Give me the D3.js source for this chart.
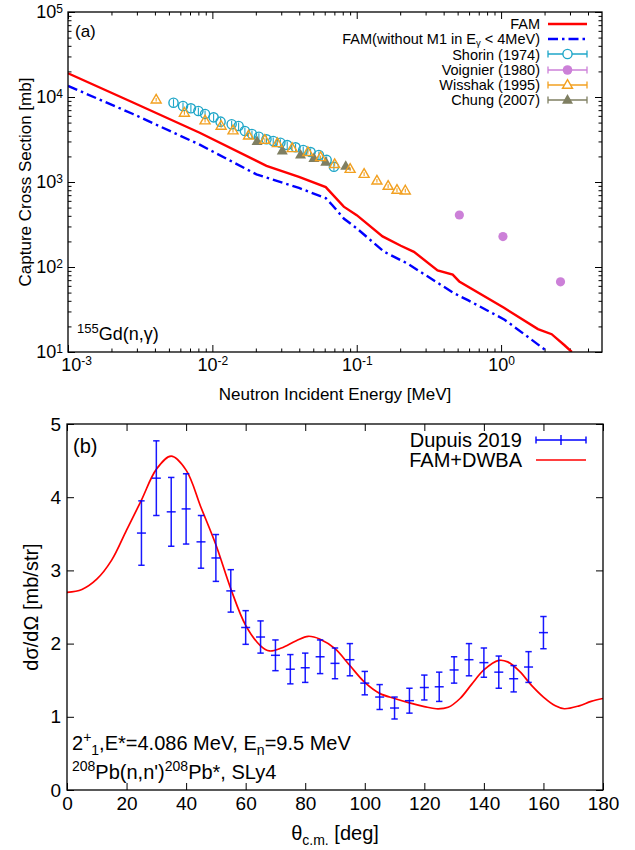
<!DOCTYPE html>
<html><head><meta charset="utf-8">
<script src="https://cdn.jsdelivr.net/npm/d3@7"></script>
<style>
body{margin:0;background:#fff}
svg{display:block}
text{font-family:"Liberation Sans",Arial,Helvetica,sans-serif;fill:#000}
</style>
</head><body>
<svg id="c" width="635" height="850"></svg>
<script>
// ---------- Panel (a): capture cross section of 155Gd ----------
const famE   = [0.001, 0.00282, 0.00817, 0.0237, 0.0398, 0.0610, 0.0813, 0.100, 0.151, 0.202, 0.249, 0.363, 0.462, 0.513, 1.047, 1.80, 2.24, 2.75, 3.09];
const famXS  = [19000, 8610, 3800, 1550, 1150, 871, 513, 407, 229, 178, 151, 91.2, 81.3, 67.6, 33.1, 18.6, 16.2, 12.0, 10.0];
const famNoM1E  = [0.001, 0.00282, 0.00817, 0.0202, 0.0398, 0.0610, 0.0676, 0.0813, 0.100, 0.155, 0.224, 0.309, 0.473, 0.589, 1.057, 1.53, 2.11];
const famNoM1XS = [13500, 6310, 2750, 1230, 851, 646, 537, 372, 285, 151, 110, 77.6, 49.0, 40.7, 24.0, 15.1, 10.0];
const shorinE  = [0.00538, 0.00626, 0.0071, 0.0080, 0.0089, 0.0102, 0.0114, 0.0136, 0.0152, 0.0168, 0.0188, 0.021, 0.0237, 0.0264, 0.0296, 0.033, 0.0377, 0.0426, 0.0479, 0.0547, 0.0619, 0.0695];
const shorinXS = [8570, 7840, 7360, 6840, 6310, 5760, 5130, 4780, 4560, 3980, 3670, 3410, 3180, 3040, 2900, 2720, 2560, 2380, 2250, 2080, 1820, 1510];
const voignierE  = [0.514, 1.03, 2.58];
const voignierXS = [409, 228, 67];
const wisshakE  = [0.00408, 0.0064, 0.0089, 0.0115, 0.0139, 0.0178, 0.0231, 0.0282, 0.0357, 0.0459, 0.0562, 0.0703, 0.090, 0.1125, 0.138, 0.165, 0.19, 0.217];
const wisshakXS = [9300, 6500, 5280, 4570, 4030, 3500, 3120, 2850, 2490, 2240, 1950, 1620, 1420, 1240, 1035, 897, 805, 791];
const chungE  = [0.0204, 0.0305, 0.0408, 0.0505, 0.061, 0.0839];
const chungXS = [3000, 2330, 2080, 1900, 1710, 1540];
const topXTicks = [1e-3, 1e-2, 1e-1, 1];
const topXExp   = ["-3", "-2", "-1", "0"];
const topYTicks = [10, 100, 1000, 10000, 100000];
const topYExp   = ["1", "2", "3", "4", "5"];
const topLegend = ["FAM", "FAM(without M1 in E", "Shorin (1974)", "Voignier (1980)", "Wisshak (1995)", "Chung (2007)"];

// ---------- Panel (b): 208Pb(n,n') angular distribution ----------
const dupuisAngle = [25, 30, 35, 40, 45, 50, 55, 60, 65, 70, 75, 80, 85, 90, 95, 100, 105, 110, 115, 120, 125, 130, 135, 140, 145, 150, 155, 160];
const dupuisDsig  = [3.51, 4.26, 3.80, 3.84, 3.39, 3.17, 2.72, 2.22, 2.09, 1.84, 1.65, 1.67, 1.82, 1.73, 1.78, 1.46, 1.27, 1.12, 1.22, 1.40, 1.41, 1.64, 1.78, 1.74, 1.61, 1.52, 1.68, 2.15];
const dupuisErr   = [0.44, 0.51, 0.47, 0.48, 0.36, 0.32, 0.29, 0.23, 0.22, 0.21, 0.20, 0.20, 0.23, 0.21, 0.22, 0.16, 0.17, 0.15, 0.17, 0.17, 0.20, 0.18, 0.22, 0.20, 0.22, 0.18, 0.21, 0.22];
const dwbaAngle = [0, 5, 10, 15, 20, 25, 30, 35, 40, 45, 50, 55, 60, 65, 68, 72, 77, 81, 85, 90, 95, 100, 105, 110, 115, 120, 124, 128, 132, 136, 140, 145, 148, 152, 156, 160, 164, 167, 172, 176, 180];
const dwbaDsig  = [2.70, 2.74, 2.88, 3.14, 3.55, 3.96, 4.38, 4.56, 4.37, 3.86, 3.35, 2.75, 2.25, 1.97, 1.90, 1.94, 2.04, 2.10, 2.06, 1.93, 1.70, 1.47, 1.32, 1.25, 1.19, 1.14, 1.11, 1.13, 1.25, 1.45, 1.64, 1.77, 1.75, 1.62, 1.43, 1.27, 1.15, 1.11, 1.15, 1.21, 1.25];
const botXTicks = [0, 20, 40, 60, 80, 100, 120, 140, 160, 180];
const botYTicks = [0, 1, 2, 3, 4, 5];

// ---------- colours ----------
const C = {fam:"#ff0000", noM1:"#0000ff", shorin:"#1ea6c8", voignier:"#cc80d8", wisshak:"#f2a020", chung:"#7f7f62", dup:"#0000ff"};

const svg = d3.select("#c");

// ================= PANEL (a) =================
const xA = d3.scaleLog().domain([1e-3, 5]).range([68, 602]);
const yA = d3.scaleLog().domain([10, 1e5]).range([352, 12]);
const gA = svg.append("g");

gA.append("clipPath").attr("id","clipA").append("rect")
  .attr("x",68).attr("y",12).attr("width",534).attr("height",340);

const xMinorA = [];
topXTicks.forEach(d => { for (let k = 2; k <= 9; k++) { const v = k*d; if (v < 5) xMinorA.push(v); } });
const yMinorA = [];
topYTicks.slice(0,-1).forEach(d => { for (let k = 2; k <= 9; k++) yMinorA.push(k*d); });

function stripDomain(g){ g.select(".domain").remove(); g.selectAll("line").attr("stroke","#000").attr("stroke-width",1); }
function supLabels(g, exps, size, supSize){
  g.selectAll(".tick text").each(function(d,i){
    const t = d3.select(this); t.text(null).style("font-size", size+"px");
    t.append("tspan").text("10");
    t.append("tspan").attr("dy","-0.45em").style("font-size", supSize+"px").text(exps[i]);
  });
}
// minor ticks
gA.append("g").attr("transform","translate(0,352)").call(d3.axisBottom(xA).tickValues(xMinorA).tickSize(-3.5).tickFormat("")).call(stripDomain);
gA.append("g").attr("transform","translate(0,12)").call(d3.axisTop(xA).tickValues(xMinorA).tickSize(-3.5).tickFormat("")).call(stripDomain);
gA.append("g").attr("transform","translate(68,0)").call(d3.axisLeft(yA).tickValues(yMinorA).tickSize(-3.5).tickFormat("")).call(stripDomain);
gA.append("g").attr("transform","translate(602,0)").call(d3.axisRight(yA).tickValues(yMinorA).tickSize(-3.5).tickFormat("")).call(stripDomain);
// major ticks
const axBA = gA.append("g").attr("transform","translate(0,352)")
  .call(d3.axisBottom(xA).tickValues(topXTicks).tickSize(-7).tickPadding(6)).call(stripDomain);
supLabels(axBA, topXExp, 18, 12);
axBA.selectAll(".tick text").filter((d,i) => i === 0).attr("x", 8);
gA.append("g").attr("transform","translate(0,12)").call(d3.axisTop(xA).tickValues(topXTicks).tickSize(-7).tickFormat("")).call(stripDomain);
const axLA = gA.append("g").attr("transform","translate(68,0)")
  .call(d3.axisLeft(yA).tickValues(topYTicks).tickSize(-7).tickPadding(5)).call(stripDomain);
supLabels(axLA, topYExp, 18, 12);
gA.append("g").attr("transform","translate(602,0)").call(d3.axisRight(yA).tickValues(topYTicks).tickSize(-7).tickFormat("")).call(stripDomain);

// lines
const lineA = d3.line().x(d => xA(d[0])).y(d => yA(d[1]));
const plotA = gA.append("g").attr("clip-path","url(#clipA)");
plotA.append("path").datum(famNoM1E.map((e,i)=>[e,famNoM1XS[i]]))
  .attr("d", lineA).attr("fill","none").attr("stroke",C.noM1).attr("stroke-width",2.4)
  .attr("stroke-dasharray","10,4,2.5,4");
plotA.append("path").datum(famE.map((e,i)=>[e,famXS[i]]))
  .attr("d", lineA).attr("fill","none").attr("stroke",C.fam).attr("stroke-width",2.4);

// marker helpers
function triPath(cx, cy, s){ const h = s*0.87; return `M${cx},${cy-h*0.62}L${cx+s/2},${cy+h*0.38}L${cx-s/2},${cy+h*0.38}Z`; }
function drawSeries(E, XS, color, kind, relErr){
  const g = plotA.append("g");
  E.forEach((e,i) => {
    const cx = xA(e), cy = yA(XS[i]);
    if (relErr > 0) {
      g.append("line").attr("x1",cx).attr("x2",cx).attr("y1",yA(XS[i]*(1+relErr))).attr("y2",yA(XS[i]*(1-relErr)))
        .attr("stroke",color).attr("stroke-width",1.1);
    }
    if (kind === "ocircle") g.append("circle").attr("cx",cx).attr("cy",cy).attr("r",4.6).attr("fill","none").attr("stroke",color).attr("stroke-width",1.4);
    if (kind === "fcircle") g.append("circle").attr("cx",cx).attr("cy",cy).attr("r",4.6).attr("fill",color);
    if (kind === "otri") g.append("path").attr("d",triPath(cx,cy,10)).attr("fill","none").attr("stroke",color).attr("stroke-width",1.4);
    if (kind === "ftri") g.append("path").attr("d",triPath(cx,cy,11)).attr("fill",color);
  });
}
drawSeries(shorinE, shorinXS, C.shorin, "ocircle", 0.1);
drawSeries(voignierE, voignierXS, C.voignier, "fcircle", 0);
drawSeries(chungE, chungXS, C.chung, "ftri", 0);
drawSeries(wisshakE, wisshakXS, C.wisshak, "otri", 0.05);

// frame
gA.append("rect").attr("x",68).attr("y",12).attr("width",534).attr("height",340)
  .attr("fill","none").attr("stroke","#000").attr("stroke-width",1.3);

// legend (a)
const legY = [24, 39, 54.5, 70, 85, 100];
const lg = gA.append("g");
legY.forEach((y,i) => {
  const t = lg.append("text").attr("x",540).attr("y",y+5).attr("text-anchor","end").style("font-size","14.5px");
  if (i === 1) {
    t.append("tspan").text(topLegend[1]);
    t.append("tspan").attr("dy","2").style("font-size","9.5px").text("γ");
    t.append("tspan").attr("dy","-2").text(" < 4MeV)");
  } else t.text(topLegend[i]);
});
lg.append("line").attr("x1",548).attr("x2",587).attr("y1",24).attr("y2",24).attr("stroke",C.fam).attr("stroke-width",2.4);
lg.append("line").attr("x1",548).attr("x2",587).attr("y1",39).attr("y2",39).attr("stroke",C.noM1).attr("stroke-width",2.4).attr("stroke-dasharray","10,4,2.5,4");
[[54,C.shorin,"ocircle"],[70,C.voignier,"fcircle"],[85,C.wisshak,"otri"],[100,C.chung,"ftri"]].forEach(([y,col,k]) => {
  lg.append("line").attr("x1",548).attr("x2",587).attr("y1",y).attr("y2",y).attr("stroke",col).attr("stroke-width",1.3);
  lg.append("line").attr("x1",548).attr("x2",548).attr("y1",y-3.5).attr("y2",y+3.5).attr("stroke",col).attr("stroke-width",1.3);
  lg.append("line").attr("x1",587).attr("x2",587).attr("y1",y-3.5).attr("y2",y+3.5).attr("stroke",col).attr("stroke-width",1.3);
  const cx = 567.5;
  if (k==="ocircle") lg.append("circle").attr("cx",cx).attr("cy",y).attr("r",4.6).attr("fill","#fff").attr("stroke",col).attr("stroke-width",1.4);
  if (k==="fcircle") lg.append("circle").attr("cx",cx).attr("cy",y).attr("r",4.8).attr("fill",col);
  if (k==="otri") lg.append("path").attr("d",triPath(cx,y,10)).attr("fill","#fff").attr("stroke",col).attr("stroke-width",1.4);
  if (k==="ftri") lg.append("path").attr("d",triPath(cx,y,11)).attr("fill",col);
});

// labels (a)
gA.append("text").attr("x",75).attr("y",37).style("font-size","17px").text("(a)");
const gd = gA.append("text").attr("x",77).attr("y",340).style("font-size","18px");
gd.append("tspan").attr("dy","-7").style("font-size","13px").text("155");
gd.append("tspan").attr("dy","7").text("Gd(n,γ)");
gA.append("text").attr("x",335).attr("y",400).attr("text-anchor","middle").style("font-size","17px").text("Neutron Incident Energy [MeV]");
gA.append("text").attr("transform","translate(31,182) rotate(-90)").attr("text-anchor","middle").style("font-size","17px").text("Capture Cross Section [mb]");

// ================= PANEL (b) =================
const xB = d3.scaleLinear().domain([0, 180]).range([67, 603]);
const yB = d3.scaleLinear().domain([0, 5]).range([790, 424]);
const gB = svg.append("g");
gB.append("clipPath").attr("id","clipB").append("rect").attr("x",67).attr("y",424).attr("width",536).attr("height",366);

gB.append("g").attr("transform","translate(0,790)").call(d3.axisBottom(xB).tickValues(botXTicks).tickSize(-7).tickPadding(7).tickFormat(d3.format("d")))
  .call(stripDomain).selectAll("text").style("font-size","19px");
gB.append("g").attr("transform","translate(0,424)").call(d3.axisTop(xB).tickValues(botXTicks).tickSize(-7).tickFormat("")).call(stripDomain);
gB.append("g").attr("transform","translate(67,0)").call(d3.axisLeft(yB).tickValues(botYTicks).tickSize(-7).tickPadding(6).tickFormat(d3.format("d")))
  .call(stripDomain).selectAll("text").style("font-size","19px");
gB.append("g").attr("transform","translate(603,0)").call(d3.axisRight(yB).tickValues(botYTicks).tickSize(-7).tickFormat("")).call(stripDomain);

const plotB = gB.append("g").attr("clip-path","url(#clipB)");
plotB.append("path").datum(dwbaAngle.map((a,i)=>[a,dwbaDsig[i]]))
  .attr("d", d3.line().curve(d3.curveCatmullRom.alpha(0.5)).x(d=>xB(d[0])).y(d=>yB(d[1])))
  .attr("fill","none").attr("stroke",C.fam).attr("stroke-width",1.7);

const eb = plotB.append("g").attr("stroke",C.dup).attr("stroke-width",1.5).attr("stroke-opacity",0.9);
dupuisAngle.forEach((a,i) => {
  const cx = xB(a), cy = yB(dupuisDsig[i]), yt = yB(dupuisDsig[i]+dupuisErr[i]), yb = yB(dupuisDsig[i]-dupuisErr[i]);
  eb.append("line").attr("x1",cx).attr("x2",cx).attr("y1",yt).attr("y2",yb);
  eb.append("line").attr("x1",cx-3.2).attr("x2",cx+3.2).attr("y1",yt).attr("y2",yt);
  eb.append("line").attr("x1",cx-3.2).attr("x2",cx+3.2).attr("y1",yb).attr("y2",yb);
  eb.append("line").attr("x1",cx-4.5).attr("x2",cx+4.5).attr("y1",cy).attr("y2",cy);
});

gB.append("rect").attr("x",67).attr("y",424).attr("width",536).attr("height",366)
  .attr("fill","none").attr("stroke","#000").attr("stroke-width",1.3);

// legend (b)
gB.append("text").attr("x",522).attr("y",447).attr("text-anchor","end").style("font-size","20px").text("Dupuis 2019");
gB.append("text").attr("x",522).attr("y",467).attr("text-anchor","end").style("font-size","20px").text("FAM+DWBA");
const lb = gB.append("g").attr("stroke",C.dup).attr("stroke-width",1.4);
lb.append("line").attr("x1",536).attr("x2",586).attr("y1",440).attr("y2",440);
lb.append("line").attr("x1",536).attr("x2",536).attr("y1",436.5).attr("y2",443.5);
lb.append("line").attr("x1",586).attr("x2",586).attr("y1",436.5).attr("y2",443.5);
lb.append("line").attr("x1",561).attr("x2",561).attr("y1",435).attr("y2",445);
gB.append("line").attr("x1",536).attr("x2",586).attr("y1",460).attr("y2",460).attr("stroke",C.fam).attr("stroke-width",1.7);

// labels (b)
gB.append("text").attr("x",73).attr("y",453).style("font-size","20px").text("(b)");
const a1 = gB.append("text").attr("x",72).attr("y",750).style("font-size","20px");
a1.append("tspan").text("2");
a1.append("tspan").attr("dy","-8").style("font-size","14px").text("+");
a1.append("tspan").attr("dy","13").style("font-size","14px").text("1");
a1.append("tspan").attr("dy","-5").text(",E*=4.086 MeV, E");
a1.append("tspan").attr("dy","5").style("font-size","14px").text("n");
a1.append("tspan").attr("dy","-5").text("=9.5 MeV");
const a2 = gB.append("text").attr("x",72).attr("y",779).style("font-size","20px");
a2.append("tspan").attr("dy","-8").style("font-size","14px").text("208");
a2.append("tspan").attr("dy","8").text("Pb(n,n')");
a2.append("tspan").attr("dy","-8").style("font-size","14px").text("208");
a2.append("tspan").attr("dy","8").text("Pb*, SLy4");
const xl = gB.append("text").attr("x",335).attr("y",840).attr("text-anchor","middle").style("font-size","20px");
xl.append("tspan").text("θ");
xl.append("tspan").attr("dy","5").style("font-size","14px").text("c.m.");
xl.append("tspan").attr("dy","-5").text(" [deg]");
gB.append("text").attr("transform","translate(38,607) rotate(-90)").attr("text-anchor","middle").style("font-size","20px").text("dσ/dΩ [mb/str]");
</script>
</body></html>
